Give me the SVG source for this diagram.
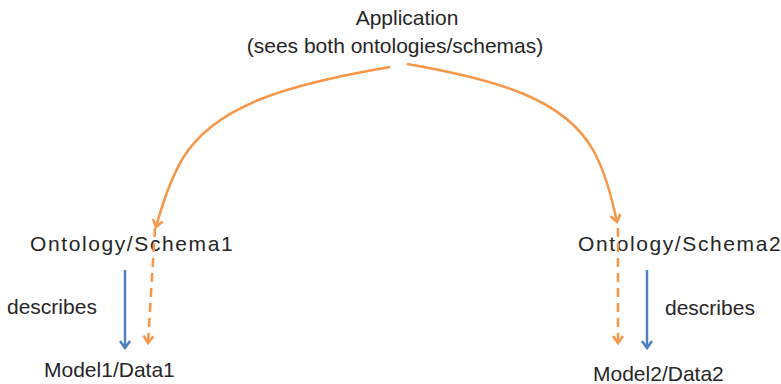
<svg xmlns="http://www.w3.org/2000/svg" width="781" height="384" viewBox="0 0 781 384">
<style>
text{font-family:"Liberation Sans",Arial,sans-serif;font-size:21px;fill:#262626}
.sp{letter-spacing:1.6px}
.or{fill:none;stroke:#F79646;stroke-width:2.5}
.dash{stroke-dasharray:9,6}
.bl{fill:none;stroke:#4F81BD;stroke-width:2.5}
</style>
<defs>
<marker id="ao" markerUnits="userSpaceOnUse" markerWidth="16" markerHeight="16" viewBox="-8 -8 16 16" refX="0" refY="0" orient="auto">
<path d="M-7,-5 L0,0 L-7,5" fill="none" stroke="#F79646" stroke-width="2.5"/>
</marker>
<marker id="ab" markerUnits="userSpaceOnUse" markerWidth="16" markerHeight="16" viewBox="-8 -8 16 16" refX="0" refY="0" orient="auto">
<path d="M-7,-5 L0,0 L-7,5" fill="none" stroke="#4F81BD" stroke-width="2.5"/>
</marker>
</defs>
<g id="app"><text x="407" y="25" text-anchor="middle">Application</text><text x="395" y="53" text-anchor="middle">(sees both ontologies/schemas)</text></g>
<g id="onto1"><text class="sp" x="30" y="251">Ontology/Schema1</text></g>
<g id="onto2"><text class="sp" x="578" y="251">Ontology/Schema2</text></g>
<g id="model1"><text x="44" y="377">Model1/Data1</text></g>
<g id="model2"><text x="593" y="381">Model2/Data2</text></g>
<g id="connectors">
<path class="or" d="M390,67 C290,84 215,105 183,158 C170,180 162,205 156,227" marker-end="url(#ao)"/>
<path class="or" d="M407,64 C500,80 565,100 593,150 C606,173 612,200 617,222" marker-end="url(#ao)"/>
<path class="or dash" d="M155,228 L148,343" marker-end="url(#ao)"/>
<path class="or dash" d="M618,228 L618,343" marker-end="url(#ao)"/>
<path class="bl" d="M125,270 L125,348" marker-end="url(#ab)"/>
<path class="bl" d="M647,270 L647,348" marker-end="url(#ab)"/>
<text x="7" y="314">describes</text>
<text x="665" y="315">describes</text>
</g>
</svg>
